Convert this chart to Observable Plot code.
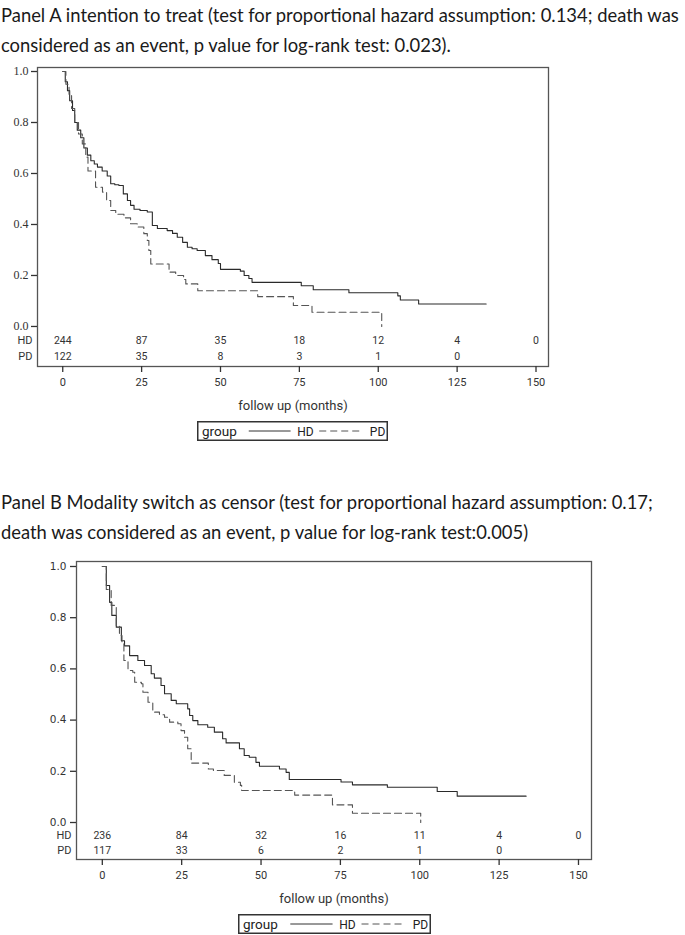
<!DOCTYPE html>
<html><head><meta charset="utf-8">
<script src="https://cdn.jsdelivr.net/npm/d3@7"></script>
<script src="https://cdn.jsdelivr.net/npm/@observablehq/plot@0.6"></script>
<style>
html,body{margin:0;padding:0;background:#fff;}
body{position:relative;width:685px;height:935px;overflow:hidden;}
.blk{position:absolute;left:0;}
.title{font-family:Lato,"Open Sans",sans-serif;font-size:18.4px;line-height:30px;color:#1a1a1a;white-space:nowrap;left:1px;}
.legend{position:absolute;}
</style></head><body>
<div class="blk title" id="titleA" style="top:0px">Panel A intention to treat (test for proportional hazard assumption: 0.134; death was<br>considered as an event, p value for log-rank test: 0.023).</div>
<div class="blk" id="plotA" style="top:60px"></div>
<div class="legend" id="legA" style="top:421px;left:197px"></div>
<div class="blk title" id="titleB" style="top:487px">Panel B Modality switch as censor (test for proportional hazard assumption: 0.17;<br>death was considered as an event, p value for log-rank test:0.005)</div>
<div class="blk" id="plotB" style="top:554px"></div>
<div class="legend" id="legB" style="top:914px;left:238px"></div>
<script>
// ---------- data ----------
const xTicks = [0, 25, 50, 75, 100, 125, 150];
const yTicks = [0, 0.2, 0.4, 0.6, 0.8, 1.0];
const groups = ["HD", "PD"];

// Panel A: intention to treat
const hdA_time = [0, 0.8, 1.5, 2.2, 3.1, 3.8, 4.6, 5.7, 6.7, 7.8, 8.9, 10, 11, 12.5, 14.1, 15.2, 16.5, 17.8, 19.2, 20.5, 21.5, 22.6, 24.5, 26.8, 28.4, 30, 33.1, 34.8, 36.3, 38, 39.5, 41, 42.6, 45.2, 47.3, 49.3, 50, 56.3, 57.5, 59, 60, 75.6, 79.4, 90.7, 106.2, 107, 112.8, 134.2];
const hdA_surv = [1, 0.96, 0.925, 0.885, 0.847, 0.8, 0.77, 0.74, 0.7, 0.672, 0.65, 0.637, 0.625, 0.61, 0.59, 0.56, 0.556, 0.553, 0.52, 0.494, 0.475, 0.46, 0.455, 0.449, 0.396, 0.384, 0.376, 0.365, 0.35, 0.33, 0.311, 0.305, 0.298, 0.278, 0.262, 0.247, 0.224, 0.217, 0.2, 0.188, 0.173, 0.16, 0.144, 0.132, 0.12, 0.104, 0.088, 0.088];
const pdA_time = [0, 1, 2, 2.8, 3.8, 5, 6.2, 7.3, 8, 10.4, 12.6, 13.9, 15.2, 16.8, 19.4, 21.5, 23.6, 25.7, 26.8, 27.3, 27.9, 33.7, 35.8, 38.3, 39, 42.8, 61.8, 73.1, 79, 101.1];
const pdA_surv = [1, 0.95, 0.91, 0.855, 0.8, 0.755, 0.716, 0.664, 0.61, 0.546, 0.527, 0.494, 0.455, 0.44, 0.426, 0.403, 0.39, 0.364, 0.337, 0.298, 0.245, 0.213, 0.2, 0.184, 0.167, 0.14, 0.117, 0.082, 0.056, 0];
const hdA_risk = [244, 87, 35, 18, 12, 4, 0];
const pdA_risk = [122, 35, 8, 3, 1, 0];

// Panel B: modality switch as censor
const hdB_time = [0, 1.26, 2.3, 3, 4.4, 6, 7, 8.6, 11.2, 13.3, 15.4, 16.4, 18.5, 19.6, 21.7, 23.3, 26.9, 27.5, 28.5, 30.1, 33.2, 35.3, 37.9, 39, 43.2, 44.7, 46.3, 48.4, 49.5, 55.8, 57.9, 58.9, 75.2, 78.8, 89.8, 105.5, 111.8, 133.5];
const hdB_surv = [1, 0.926, 0.86, 0.809, 0.763, 0.71, 0.69, 0.652, 0.633, 0.613, 0.581, 0.564, 0.535, 0.503, 0.477, 0.464, 0.444, 0.418, 0.398, 0.382, 0.372, 0.353, 0.327, 0.311, 0.288, 0.262, 0.255, 0.235, 0.22, 0.209, 0.196, 0.168, 0.158, 0.147, 0.138, 0.121, 0.103, 0.103];
const pdB_time = [0, 1.26, 2.8, 4.4, 5.4, 6.2, 6.8, 8.1, 9.6, 10.2, 12.3, 12.8, 14.4, 15.9, 18, 19.6, 21.2, 23.8, 24.8, 25.9, 26.9, 28, 33.4, 35, 38.4, 41.6, 43.5, 43.9, 60.6, 72.5, 78.8, 100.3];
const pdB_surv = [1, 0.91, 0.848, 0.77, 0.73, 0.704, 0.633, 0.594, 0.587, 0.548, 0.542, 0.509, 0.47, 0.431, 0.421, 0.411, 0.392, 0.386, 0.359, 0.333, 0.288, 0.232, 0.209, 0.203, 0.184, 0.157, 0.145, 0.125, 0.107, 0.069, 0.036, 0];
const hdB_risk = [236, 84, 32, 16, 11, 4, 0];
const pdB_risk = [117, 33, 6, 2, 1, 0];

// ---------- drawing ----------
const narrow = "'Liberation Sans Narrow',Roboto,'Liberation Sans',sans-serif";
const zip = (t, s) => t.map((d, i) => ({t: d, s: s[i]}));
const risk = (n) => n.map((d, i) => ({t: xTicks[i], n: d}));

function panel(cfg) {
  return Plot.plot({
    width: 685,
    height: cfg.height,
    marginTop: cfg.mt, marginBottom: cfg.mb, marginLeft: cfg.ml, marginRight: cfg.mr,
    x: {domain: cfg.xd},
    y: {domain: cfg.yd},
    style: {background: "#fff", overflow: "visible"},
    marks: [
      Plot.line(zip(cfg.hdT, cfg.hdS), {x: "t", y: "s", curve: "step-after", stroke: "#2a2a2a", strokeWidth: 1.1}),
      Plot.line(zip(cfg.pdT, cfg.pdS), {x: "t", y: "s", curve: "step-after", stroke: "#555", strokeWidth: 1.1, strokeDasharray: "7,4"}),
      Plot.frame({stroke: "#555", strokeWidth: 1.3}),
      Plot.axisY({ticks: yTicks, tickFormat: d3.format(".1f"), tickSize: 6, tickPadding: cfg.ytp, label: null, fontFamily: cfg.yfont, fontSize: cfg.yfs, color: "#333", strokeWidth: 1.3}),
      Plot.axisX({ticks: xTicks, tickFormat: d => d, tickSize: 6, tickPadding: 6, label: null, fontFamily: narrow, fontSize: 11, color: "#333", strokeWidth: 1.3}),
      Plot.text(risk(cfg.hdR), {x: "t", text: "n", frameAnchor: "bottom", dy: cfg.hdy, fontFamily: narrow, fontSize: 10.5, fill: "#333"}),
      Plot.text(risk(cfg.pdR), {x: "t", text: "n", frameAnchor: "bottom", dy: cfg.pdy, fontFamily: narrow, fontSize: 10.5, fill: "#333"}),
      Plot.text([groups[0]], {text: d => d, frameAnchor: "bottom-left", dx: -5, dy: cfg.hdy, textAnchor: "end", fontFamily: narrow, fontSize: 11, fill: "#333"}),
      Plot.text([groups[1]], {text: d => d, frameAnchor: "bottom-left", dx: -5, dy: cfg.pdy, textAnchor: "end", fontFamily: narrow, fontSize: 11, fill: "#333"}),
      Plot.text(["follow up (months)"], {text: d => d, frameAnchor: "bottom", dy: 43, fontFamily: narrow, fontSize: 13, fill: "#333"})
    ]
  });
}

document.getElementById("plotA").append(panel({
  height: 358, mt: 7, mb: 52, ml: 37, mr: 137,
  xd: [-8.0, 153.96], yd: [-0.157, 1.0157],
  hdT: hdA_time, hdS: hdA_surv, pdT: pdA_time, pdS: pdA_surv,
  hdR: hdA_risk, pdR: pdA_risk, hdy: -23, pdy: -7,
  ytp: 3, yfont: "'Liberation Serif','DejaVu Serif',serif", yfs: 12
}));
document.getElementById("plotB").append(panel({
  height: 355, mt: 7, mb: 50, ml: 76, mr: 94,
  xd: [-8.13, 154.1], yd: [-0.1445, 1.0195],
  hdT: hdB_time, hdS: hdB_surv, pdT: pdB_time, pdS: pdB_surv,
  hdR: hdB_risk, pdR: pdB_risk, hdy: -21, pdy: -6,
  ytp: 4, yfont: "'DejaVu Sans',sans-serif", yfs: 10.5
}));

function legend(el, w) {
  const h = 20;
  const ns = "http://www.w3.org/2000/svg";
  const svg = document.createElementNS(ns, "svg");
  svg.setAttribute("width", w); svg.setAttribute("height", h);
  const ff = narrow.replace(/'/g, "&quot;");
  const parts = [
    `<rect x="0.75" y="0.75" width="${w - 1.5}" height="${h - 1.5}" fill="#fff" stroke="#333" stroke-width="1.5"/>`,
    `<text x="5" y="15" font-family="${ff}" font-size="13.5" fill="#222">group</text>`,
    `<line x1="${w * 0.271}" x2="${w * 0.49}" y1="10" y2="10" stroke="#333" stroke-width="1"/>`,
    `<text x="${w * 0.525}" y="14.5" font-family="${ff}" font-size="12" fill="#222">${groups[0]}</text>`,
    `<line x1="${w * 0.64}" x2="${w * 0.86}" y1="10" y2="10" stroke="#555" stroke-width="1" stroke-dasharray="7,4"/>`,
    `<text x="${w * 0.905}" y="14.5" font-family="${ff}" font-size="12" fill="#222">${groups[1]}</text>`
  ];
  svg.innerHTML = parts.join("");
  el.append(svg);
}
legend(document.getElementById("legA"), 191);
legend(document.getElementById("legB"), 193);
</script>
</body></html>
